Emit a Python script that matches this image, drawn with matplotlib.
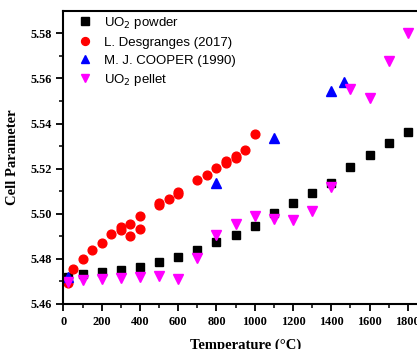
import numpy as np
import matplotlib
matplotlib.use("Agg")
from matplotlib import pyplot as plt
from matplotlib.ticker import MultipleLocator

# UO2 powder
powder_t = [25, 100, 200, 300, 400, 500, 600, 700, 800, 900, 1000, 1100,
            1200, 1300, 1400, 1500, 1600, 1700, 1800]
powder_a = [5.4721, 5.4732, 5.4741, 5.4751, 5.4765, 5.4785, 5.4810, 5.4839,
            5.4873, 5.4906, 5.4944, 5.5002, 5.5049, 5.5091, 5.5138, 5.5209,
            5.5259, 5.5312, 5.5364]

# L. Desgranges (2017)
desg_t = [25, 50, 100, 150, 200, 250, 300, 300, 350, 350, 400, 400, 500, 500,
          550, 600, 600, 700, 750, 800, 850, 850, 900, 900, 950, 1000]
desg_a = [5.4692, 5.4757, 5.4798, 5.4838, 5.4872, 5.4912, 5.4928, 5.4941,
          5.4900, 5.4955, 5.4934, 5.4991, 5.5037, 5.5046, 5.5064, 5.5089,
          5.5098, 5.5148, 5.5172, 5.5201, 5.5225, 5.5234, 5.5248, 5.5255,
          5.5283, 5.5352]

# M. J. COOPER (1990)
cooper_t = [25, 800, 1100, 1400, 1465]
cooper_a = [5.4718, 5.5138, 5.5334, 5.5544, 5.5585]

# UO2 pellet
pellet_t = [25, 100, 200, 300, 400, 500, 600, 700, 800, 900, 1000, 1100,
            1200, 1300, 1400, 1500, 1600, 1700, 1800]
pellet_a = [5.4696, 5.4706, 5.4709, 5.4715, 5.4721, 5.4725, 5.4709, 5.4803,
            5.4905, 5.4955, 5.4990, 5.4975, 5.4972, 5.5014, 5.5117, 5.5552,
            5.5514, 5.5678, 5.5800]

fig = plt.figure(figsize=(4.17, 3.49), dpi=100)
ax = fig.add_axes([0.152, 0.129, 0.872, 0.8395])

ax.plot(powder_t, powder_a, 's', color='black', ms=5.8, ls='none', label='UO$_2$ powder')
ax.plot(desg_t, desg_a, 'o', color='red', ms=6.3, ls='none', label='L. Desgranges (2017)')
ax.plot(cooper_t, cooper_a, '^', color='blue', ms=7, ls='none', label='M. J. COOPER (1990)')
ax.plot(pellet_t, pellet_a, 'v', color='magenta', ms=7, ls='none', label='UO$_2$ pellet')

ax.set_xlim(0, 1900)
ax.set_ylim(5.46, 5.5899)
ax.xaxis.set_major_locator(MultipleLocator(200))
ax.xaxis.set_minor_locator(MultipleLocator(100))
ax.yaxis.set_major_locator(MultipleLocator(0.02))
ax.yaxis.set_minor_locator(MultipleLocator(0.01))
ax.yaxis.set_major_formatter(matplotlib.ticker.FormatStrFormatter('%.2f'))

for s in ax.spines.values():
    s.set_linewidth(1.5)
ax.tick_params(which='major', direction='out', length=5, width=1.3)
ax.tick_params(which='minor', direction='out', length=3, width=1.1)

serif = ['Liberation Serif', 'DejaVu Serif']
for lab in ax.get_xticklabels() + ax.get_yticklabels():
    lab.set_family(serif)
    lab.set_fontweight('bold')
    lab.set_fontsize(8.8)

ax.set_xlabel('Temperature (\u00b0C)', family=serif, fontweight='bold', fontsize=10.5, labelpad=8)
ax.set_ylabel('Cell Parameter', family=serif, fontweight='bold', fontsize=10.5, labelpad=8)

leg = ax.legend(loc='upper left', bbox_to_anchor=(0.027, 1.0), frameon=False,
                prop={'family': 'Liberation Sans', 'size': 9.5},
                handletextpad=0.83, labelspacing=0.42, borderaxespad=0, borderpad=0.3,
                handlelength=1.2, markerscale=0.9)

fig.savefig('out.png', dpi=100)
